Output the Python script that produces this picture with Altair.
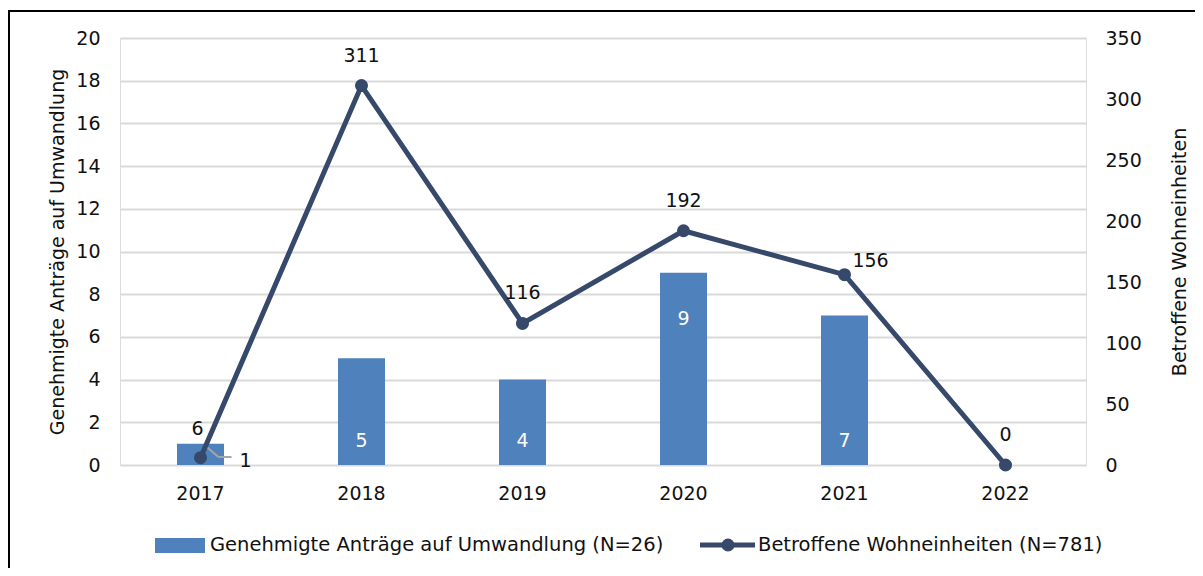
import altair as alt
import pandas as pd

years = ["2017", "2018", "2019", "2020", "2021", "2022"]
antraege = [1, 5, 4, 9, 7, 0]
wohneinheiten = [6, 311, 116, 192, 156, 0]
series_names = ["Genehmigte Anträge auf Umwandlung (N=26)", "Betroffene Wohneinheiten (N=781)"]
left_title = "Genehmigte Anträge auf Umwandlung"
right_title = "Betroffene Wohneinheiten"

BAR = "#4F81BD"
LINE = "#36496A"
GRID = "#D9D9D9"
LEAD = "#A6A6A6"
TXT = "#111111"
FONT = "DejaVu Sans"
W, H = 966, 427
PL, PT, PR, PB = 112, 30, 109, 103

df = pd.DataFrame({"year": years, "antraege": antraege, "wohn": wohneinheiten})
base = alt.Chart(df)
xenc = alt.X("year:O", title=None,
             scale=alt.Scale(paddingInner=0, paddingOuter=0),
             axis=alt.Axis(labelAngle=0, domain=False, ticks=False, labelPadding=19,
                           labelFontSize=19, labelColor=TXT, labelFont=FONT))

yleft = alt.Y("antraege:Q", title=left_title,
              scale=alt.Scale(domain=[0, 20]),
              axis=alt.Axis(values=list(range(0, 21, 2)), grid=True, gridColor=GRID, gridWidth=2,
                            domain=False, ticks=False, labelPadding=20, labelFontSize=19,
                            labelColor=TXT, labelFont=FONT, titleFontSize=19, titleFont=FONT,
                            titleFontWeight="normal", titleColor=TXT, titlePadding=8))

bars = base.mark_bar(size=47, color=BAR).encode(x=xenc, y=yleft)
lab_base = base.transform_filter(alt.FieldOneOfPredicate(field="year", oneOf=["2018", "2019", "2021"])) \
    .mark_text(color="white", fontSize=19, font=FONT, baseline="middle", dy=-24) \
    .encode(x="year:O", y=alt.datum(0), text="antraege:Q")
lab_top = base.transform_filter(alt.FieldEqualPredicate(field="year", equal="2020")) \
    .mark_text(color="white", fontSize=19, font=FONT, baseline="middle", dy=46) \
    .encode(x="year:O", y="antraege:Q", text="antraege:Q")
first = base.transform_filter(alt.FieldEqualPredicate(field="year", equal="2017"))
lab_out = first.mark_text(color=TXT, fontSize=19, font=FONT, baseline="middle", align="left",
                          dx=39, dy=-4).encode(x="year:O", y=alt.datum(0), text="antraege:Q")
lead1 = first.mark_rule(color=LEAD, strokeWidth=2, xOffset=4, x2Offset=18, yOffset=-20, y2Offset=-8) \
    .encode(x="year:O", x2="year:O", y=alt.datum(0), y2=alt.datum(0))
lead2 = first.mark_rule(color=LEAD, strokeWidth=2, xOffset=18, x2Offset=31, yOffset=-8, y2Offset=-8) \
    .encode(x="year:O", x2="year:O", y=alt.datum(0), y2=alt.datum(0))
left = alt.layer(bars, lead1, lead2, lab_base, lab_top, lab_out)

yright = alt.Y("wohn:Q", title=right_title,
               scale=alt.Scale(domain=[0, 350]),
               axis=alt.Axis(orient="right", values=list(range(0, 351, 50)), grid=False,
                             domain=False, ticks=False, labelPadding=19, labelFontSize=19,
                             labelColor=TXT, labelFont=FONT, titleFontSize=19, titleFont=FONT,
                             titleFontWeight="normal", titleColor=TXT, titlePadding=48,
                             titleAngle=270))
line = base.mark_line(color=LINE, strokeWidth=5).encode(x="year:O", y=yright)
pts = base.mark_point(filled=True, color=LINE, size=170, opacity=1).encode(x="year:O", y="wohn:Q")
llab = base.transform_filter(alt.FieldOneOfPredicate(field="year", oneOf=["2018", "2019", "2020", "2022"])) \
    .mark_text(color=TXT, fontSize=19, font=FONT, baseline="middle", dy=-30) \
    .encode(x="year:O", y="wohn:Q", text="wohn:Q")
llab0 = base.transform_filter(alt.FieldEqualPredicate(field="year", equal="2017")) \
    .mark_text(color=TXT, fontSize=19, font=FONT, baseline="middle", dx=-3, dy=-29) \
    .encode(x="year:O", y="wohn:Q", text="wohn:Q")
llab2 = base.transform_filter(alt.FieldEqualPredicate(field="year", equal="2021")) \
    .mark_text(color=TXT, fontSize=19, font=FONT, baseline="middle", dx=26, dy=-14) \
    .encode(x="year:O", y="wohn:Q", text="wohn:Q")
right = alt.layer(line, pts, llab, llab0, llab2)

dummy = alt.Chart(alt.Data(values=[{}]))
frame_l = dummy.mark_rule(color="black", strokeWidth=2).encode(
    x=alt.value(-111), y=alt.value(-28), y2=alt.value(H + PB))
frame_t = dummy.mark_rule(color="black", strokeWidth=2).encode(
    x=alt.value(-112), x2=alt.value(W + PR), y=alt.value(-27))

leg_rect = dummy.mark_rect(color=BAR).encode(
    x=alt.value(35), x2=alt.value(85), y=alt.value(500), y2=alt.value(515))
leg_t1 = dummy.mark_text(align="left", baseline="middle", fontSize=19.5, font=FONT, color=TXT).encode(
    x=alt.value(90), y=alt.value(507), text=alt.value(series_names[0]))
leg_line = dummy.mark_rule(color=LINE, strokeWidth=5).encode(
    x=alt.value(580), x2=alt.value(635), y=alt.value(507))
leg_pt = dummy.mark_point(filled=True, color=LINE, size=170, opacity=1).encode(
    x=alt.value(608), y=alt.value(507))
leg_t2 = dummy.mark_text(align="left", baseline="middle", fontSize=19.5, font=FONT, color=TXT).encode(
    x=alt.value(638), y=alt.value(507), text=alt.value(series_names[1]))

chart = alt.layer(left, right, frame_l, frame_t, leg_rect, leg_t1, leg_line, leg_pt, leg_t2) \
    .resolve_scale(y="independent") \
    .properties(width=W, height=H,
                autosize=alt.AutoSizeParams(type="none"),
                padding={"left": PL, "top": PT, "right": PR, "bottom": PB}) \
    .configure_view(stroke=None) \
    .configure(font=FONT, background="white")

chart.save("out.html", embed_options={"renderer": "svg", "actions": False})
